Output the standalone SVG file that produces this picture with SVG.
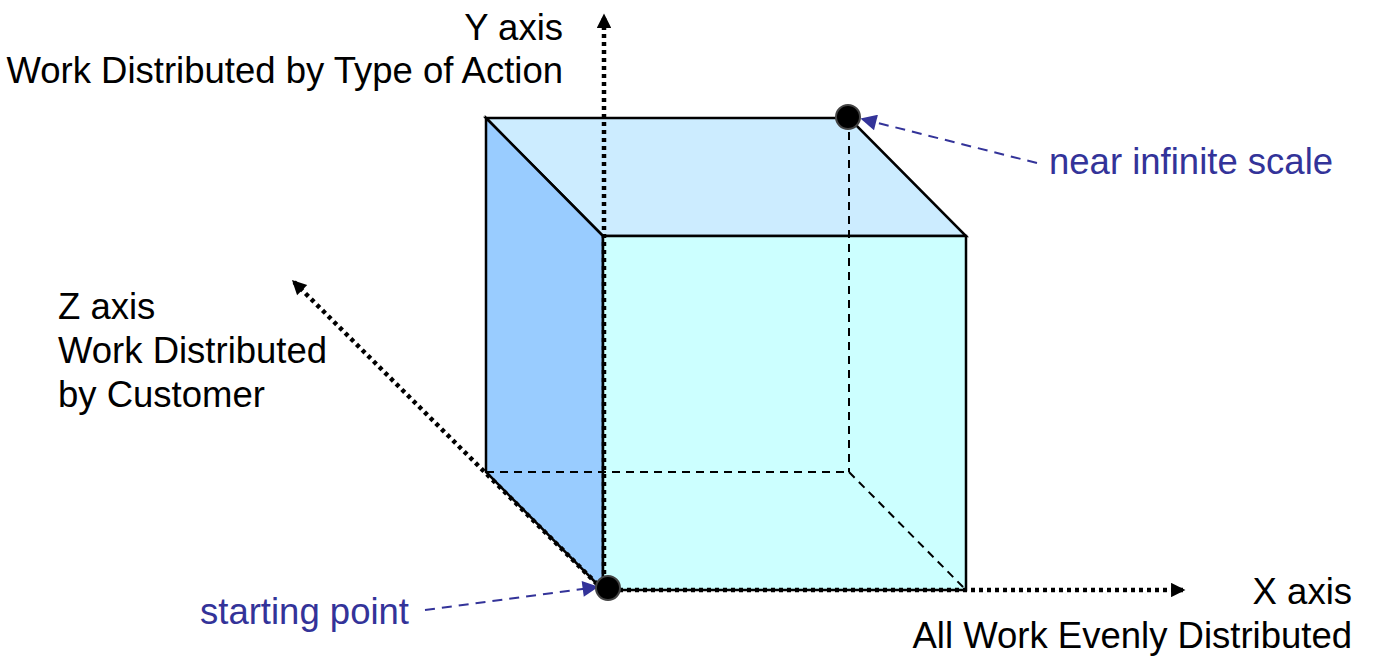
<svg xmlns="http://www.w3.org/2000/svg" width="1373" height="658" viewBox="0 0 1373 658">
<style>
.edge{stroke:#000;stroke-width:2.5;stroke-linejoin:miter}
.top{fill:#CCECFF}
.side{fill:#99CCFF}
.front{fill:#CCFFFF}
.hidden{stroke:#000;stroke-width:2;fill:none;stroke-dasharray:8 6}
.axis{stroke:#000;stroke-width:4.5;fill:none;stroke-dasharray:4 4}
.note{stroke:#333399;stroke-width:2;fill:none;stroke-dasharray:10 7}
.lbl{font-family:"Liberation Sans",Arial,sans-serif;font-size:36.5px;fill:#000}
.blue{fill:#333399}
.dot{fill:#000;stroke:#444;stroke-width:2}
</style>
<defs>
<marker id="ah" viewBox="0 0 10 10" refX="9" refY="5" markerWidth="4" markerHeight="3.2" orient="auto" markerUnits="strokeWidth">
<path d="M0,0 L10,5 L0,10 z" fill="#000"/>
</marker>
<marker id="bh" viewBox="0 0 10 10" refX="9" refY="5" markerWidth="9" markerHeight="8" orient="auto" markerUnits="strokeWidth">
<path d="M0,0 L10,5 L0,10 z" fill="#333399"/>
</marker>
</defs>
<rect width="1373" height="658" fill="#fff"/>
<g id="cube">
<polygon points="486,118 849,118 966,236 603,236" class="edge top"/>
<polygon points="486,118 603,236 603,590 486,472" class="edge side"/>
<rect x="603" y="236" width="363" height="354" class="edge front"/>
<line x1="849" y1="118" x2="849" y2="472" class="hidden"/>
<line x1="486" y1="472" x2="849" y2="472" class="hidden"/>
<line x1="849" y1="472" x2="966" y2="590" class="hidden"/>
</g>
<g id="connectors">
<line id="y-axis" x1="604" y1="590" x2="604" y2="15" class="axis" marker-end="url(#ah)"/>
<line id="z-axis" x1="603" y1="590" x2="293" y2="281" class="axis" marker-end="url(#ah)"/>
<line id="x-axis" x1="603" y1="590" x2="1184" y2="590" class="axis" marker-end="url(#ah)"/>
<line id="note-scale" x1="1037" y1="163" x2="862" y2="119" class="note" marker-end="url(#bh)"/>
<line id="note-start" x1="425" y1="610" x2="597" y2="587" class="note" marker-end="url(#bh)"/>
</g>
<g id="start-point"><circle cx="608" cy="588" r="12" class="dot"/></g>
<g id="infinite-point"><circle cx="848" cy="117" r="12" class="dot"/></g>
<g id="y-label">
<text class="lbl" x="563" y="40" text-anchor="end">Y axis</text>
<text class="lbl" x="563" y="83" text-anchor="end">Work Distributed by Type of Action</text>
</g>
<g id="z-label">
<text class="lbl" x="58" y="319">Z axis</text>
<text class="lbl" x="58" y="363">Work Distributed</text>
<text class="lbl" x="58" y="407">by Customer</text>
</g>
<g id="x-label">
<text class="lbl" x="1352" y="604" text-anchor="end">X axis</text>
<text class="lbl" x="1352" y="648" text-anchor="end">All Work Evenly Distributed</text>
</g>
<g id="scale-label"><text class="lbl blue" x="1049" y="174">near infinite scale</text></g>
<g id="start-label"><text class="lbl blue" x="200" y="624">starting point</text></g>
</svg>
